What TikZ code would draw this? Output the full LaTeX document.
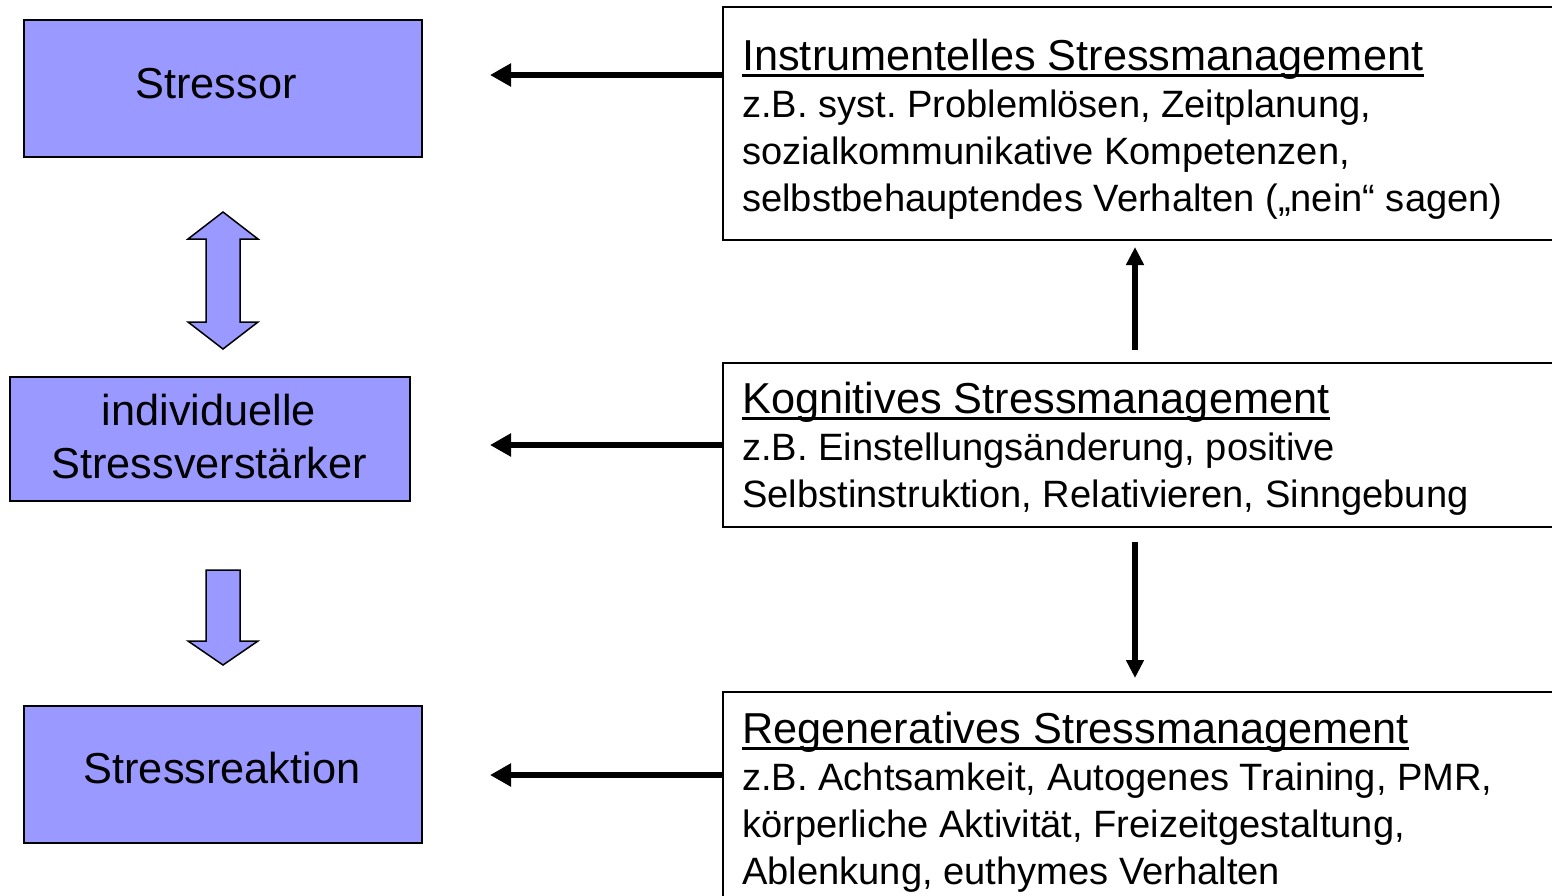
\documentclass[tikz,border=0pt]{standalone}
\usepackage{fontspec}
\setmainfont{Liberation Sans}
\usetikzlibrary{arrows.meta}
\definecolor{boxblue}{HTML}{9999FF}
\frenchspacing
\begin{document}
\begin{tikzpicture}[x=1pt,y=-1pt,
  leftbox/.style={draw=black,line width=1.5pt,fill=boxblue,inner sep=0pt},
  rightbox/.style={draw=black,line width=1.5pt,fill=white,inner sep=0pt},
  lefttext/.style={inner sep=0pt,anchor=base,font=\fontsize{43.3}{53}\selectfont,align=center},
  titletext/.style={inner sep=0pt,anchor=base west,font=\fontsize{43.3}{47}\selectfont},
  bodytext/.style={inner sep=0pt,anchor=base west,font=\fontsize{38.1}{47}\selectfont},
  uline/.style={line width=3pt},
  bigarrow/.style={draw=black,line width=1.5pt,fill=boxblue,line join=miter},
  harrow/.style={line width=6.5pt,-{Triangle[length=21pt,width=22pt]}},
  varrow/.style={line width=5.5pt,-{Triangle[length=18pt,width=17pt]}}
]
\useasboundingbox (0,0) rectangle (1552,895);
\fill[white] (0,0) rectangle (1552,895);

% left boxes
\node[leftbox,minimum width=398pt,minimum height=137pt] (stressor) at (223,88.5) {};
\node[lefttext] (stressorlabel) at (216,98) {Stressor};
\node[leftbox,minimum width=400pt,minimum height=124pt] (verst) at (210,439) {};
\node[lefttext,anchor=north] (verstlabel) at (209,394) {individuelle\\Stressverstärker};
\node[leftbox,minimum width=398pt,minimum height=137pt] (reaktion) at (223,774.5) {};
\node[lefttext] (reaktionlabel) at (222,783) {Stressreaktion};

% block arrows
\path[bigarrow] (223,212) -- (258,239) -- (240,239) -- (240,322) -- (258,322) -- (223,349)
  -- (188,322) -- (206,322) -- (206,239) -- (188,239) -- cycle;
\path[bigarrow] (206,570) -- (240,570) -- (240,641) -- (258,641) -- (223,665)
  -- (188,641) -- (206,641) -- cycle;

% right boxes
\node[rightbox,minimum width=860pt,minimum height=233pt] (instr) at (1153,123.5) {};
\node[rightbox,minimum width=860pt,minimum height=164pt] (kogn) at (1153,445) {};
\node[rightbox,minimum width=860pt,minimum height=230pt] (regen) at (1153,807) {};

% texts of right boxes
\node[titletext] (t1) at (742,70) {Instrumentelles Stressmanagement};
\draw[uline] ([yshift=-5pt]t1.base west) -- ([yshift=-5pt]t1.base east);
\node[bodytext] (b11) at (742,117) {z.B. syst. Problemlösen, Zeitplanung,};
\node[bodytext] (b12) at (742,164) {sozialkommunikative Kompetenzen,};
\node[bodytext] (b13) at (742,211) {selbstbehauptendes Verhalten („nein“ sagen)};

\node[titletext] (t2) at (742,413) {Kognitives Stressmanagement};
\draw[uline] ([yshift=-5pt]t2.base west) -- ([yshift=-5pt]t2.base east);
\node[bodytext] (b21) at (742,460) {z.B. Einstellungsänderung, positive};
\node[bodytext] (b22) at (742,507) {Selbstinstruktion, Relativieren, Sinngebung};

\node[titletext] (t3) at (742,743) {Regeneratives Stressmanagement};
\draw[uline] ([yshift=-5pt]t3.base west) -- ([yshift=-5pt]t3.base east);
\node[bodytext] (b31) at (742,790) {z.B. Achtsamkeit, Autogenes Training, PMR,};
\node[bodytext] (b32) at (742,837) {körperliche Aktivität, Freizeitgestaltung,};
\node[bodytext] (b33) at (742,884) {Ablenkung, euthymes Verhalten};

% horizontal arrows
\coordinate (h1) at (490,75);
\coordinate (h2) at (490,445);
\coordinate (h3) at (490,775);
\draw[harrow] (instr.west |- h1) -- (h1);
\draw[harrow] (kogn.west |- h2) -- (h2);
\draw[harrow] (regen.west |- h3) -- (h3);

% vertical arrows
\coordinate (upstart) at (1135,350);
\coordinate (upend) at (1135,247);
\coordinate (downstart) at (1135,542);
\coordinate (downend) at (1135,678);
\draw[varrow] (upstart) -- (upend);
\draw[varrow] (downstart) -- (downend);
\end{tikzpicture}
\end{document}
